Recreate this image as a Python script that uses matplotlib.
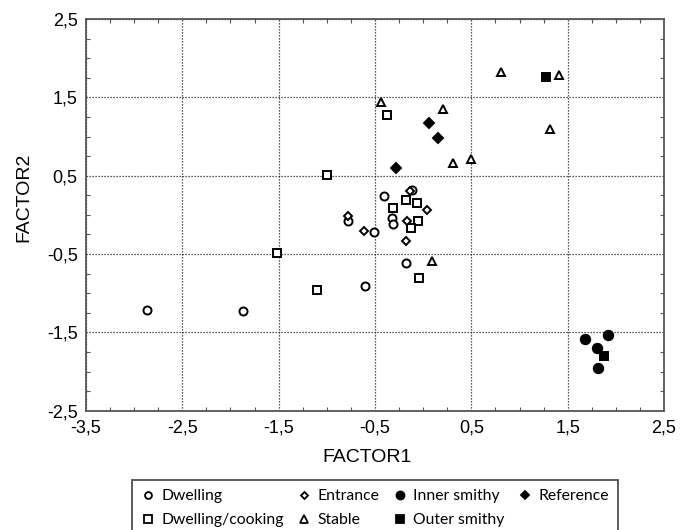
import numpy as np
import matplotlib
matplotlib.use("Agg")
import matplotlib.pyplot as plt
from matplotlib.ticker import MultipleLocator, FixedLocator, FixedFormatter
from matplotlib.lines import Line2D

plt.rcParams['font.family'] = ['Liberation Sans', 'DejaVu Sans']

# Factor scores, one pair of lists per group
dwelling_x = [-2.87, -1.87, -0.60, -0.18, -0.51, -0.785, -0.41, -0.115, -0.327, -0.31]
dwelling_y = [-1.21, -1.23, -0.91, -0.615, -0.224, -0.084, 0.24, 0.32, -0.045, -0.117]

cooking_x = [-1.515, -1.10, -0.994, -0.376, -0.31, -0.174, -0.067, -0.052, -0.122, -0.046]
cooking_y = [-0.483, -0.965, 0.504, 1.27, 0.082, 0.185, 0.155, -0.084, -0.173, -0.806]

entrance_x = [-0.785, -0.611, -0.181, -0.167, 0.0375, -0.132]
entrance_y = [-0.011, -0.206, -0.33, -0.075, 0.066, 0.30]

stable_x = [-0.434, 0.208, 0.8125, 1.406, 1.316, 0.305, 0.493, 0.09]
stable_y = [1.441, 1.347, 1.828, 1.79, 1.096, 0.666, 0.713, -0.586]

inner_x = [1.68, 1.917, 1.805, 1.81]
inner_y = [-1.586, -1.531, -1.706, -1.956]

outer_x = [1.271, 1.873]
outer_y = [1.755, -1.803]

reference_x = [0.058, 0.156, -0.281]
reference_y = [1.173, 0.981, 0.593]

ticks = [-3.5, -2.5, -1.5, -0.5, 0.5, 1.5, 2.5]
yticks = [-2.5, -1.5, -0.5, 0.5, 1.5, 2.5]
tick_labels = ['-3,5', '-2,5', '-1,5', '-0,5', '0,5', '1,5', '2,5']
ytick_labels = ['-2,5', '-1,5', '-0,5', '0,5', '1,5', '2,5']

groups = [
    ('Dwelling', dwelling_x, dwelling_y, 'o', 'white', 5.8),
    ('Dwelling/cooking', cooking_x, cooking_y, 's', 'white', 6.0),
    ('Entrance', entrance_x, entrance_y, 'D', 'white', 4.2),
    ('Stable', stable_x, stable_y, '^', 'white', 6.0),
    ('Inner smithy', inner_x, inner_y, 'o', 'black', 6.8),
    ('Outer smithy', outer_x, outer_y, 's', 'black', 6.3),
    ('Reference', reference_x, reference_y, 'D', 'black', 4.8),
]

fig = plt.figure(figsize=(6.92, 5.30), dpi=100)
ax = fig.add_axes([86 / 692, 1 - 410.7 / 530, 578 / 692, 391.7 / 530])

handles = []
for name, xs, ys, m, fc, ms in groups:
    ax.plot(xs, ys, linestyle='none', marker=m, markersize=ms,
            markerfacecolor=fc, markeredgecolor='black', markeredgewidth=1.4,
            zorder=3)
    handles.append(Line2D([], [], linestyle='none', marker=m, markersize=ms * 0.85,
                          markerfacecolor=fc, markeredgecolor='black',
                          markeredgewidth=1.3, label=name))

ax.set_xlim(-3.5, 2.5)
ax.set_ylim(-2.5, 2.5)
ax.xaxis.set_major_locator(FixedLocator(ticks))
ax.xaxis.set_major_formatter(FixedFormatter(tick_labels))
ax.yaxis.set_major_locator(FixedLocator(yticks))
ax.yaxis.set_major_formatter(FixedFormatter(ytick_labels))
ax.xaxis.set_minor_locator(MultipleLocator(0.25))
ax.yaxis.set_minor_locator(MultipleLocator(0.25))
ax.tick_params(which='both', direction='in', top=True, right=True, color='#555555')
ax.tick_params(which='major', length=0, labelsize=13, pad=6)
ax.tick_params(which='minor', length=3, width=0.8)
ax.grid(True, which='major', color='#222222', linestyle=(0, (1, 1.4)), linewidth=0.9)
for s in ax.spines.values():
    s.set_color('#555555')
    s.set_linewidth(1.3)

ax.set_xlabel('FACTOR1', fontsize=14)
ax.set_ylabel('FACTOR2', fontsize=14)
ax.xaxis.set_label_coords(0.486, -0.098)
ax.yaxis.set_label_coords(-0.092, 0.546)

leg = fig.legend(handles, [g[0] for g in groups],
                 ncol=4, loc='upper center', bbox_to_anchor=(375 / 692, 1 - 480 / 530),
                 prop={'family': 'Lato', 'size': 11.3}, frameon=True, fancybox=False,
                 edgecolor='#222222', handlelength=0.8, handletextpad=0.45,
                 columnspacing=0.9, labelspacing=0.62, borderpad=0.6,
                 borderaxespad=0)
leg.get_frame().set_linewidth(1.3)

fig.savefig('out.png', dpi=100)
